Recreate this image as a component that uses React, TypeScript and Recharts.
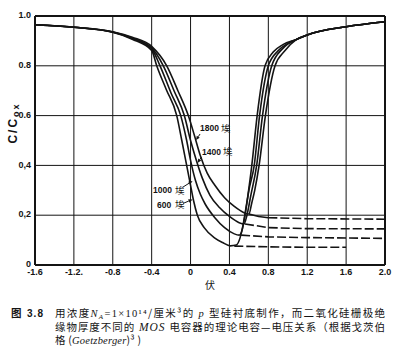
import React from 'react';
import { LineChart, Line, XAxis, YAxis, CartesianGrid, ReferenceLine, ReferenceDot } from 'recharts';

// Tick values and labels
const xTicks = [-1.6, -1.2, -0.8, -0.4, 0, 0.4, 0.8, 1.2, 1.6, 2.0];
const xTickLabels = ['-1.6', '-1.2.', '-0.8', '-0.4', '0', '0.4', '0.8', '1.2', '1.6', '2.0'];
const yTicks = [0, 0.2, 0.4, 0.6, 0.8, 1.0];
const yTickLabels = ['0', '0,2', '0,4', '0.6', '0.8', '1.0'];

// Low-frequency C-V curves (solid), oxide thickness in Å
const v600 = [-1.6, -1.2, -0.8, -0.6, -0.4, -0.348, -0.25, -0.142, -0.09, -0.04, 0.0, 0.03, 0.07, 0.14, 0.25, 0.33, 0.41, 0.47, 0.51, 0.54, 0.56, 0.59, 0.63, 0.685, 0.766, 0.85, 0.95, 1.09, 1.2, 1.6, 2.0];
const c600 = [0.965, 0.955, 0.935, 0.907, 0.862, 0.80, 0.705, 0.60, 0.50, 0.40, 0.32, 0.26, 0.20, 0.15, 0.108, 0.09, 0.077, 0.08, 0.11, 0.16, 0.205, 0.28, 0.40, 0.60, 0.80, 0.855, 0.885, 0.906, 0.924, 0.957, 0.977];

const v1000 = [-1.6, -1.2, -0.8, -0.6, -0.4, -0.314, -0.2, -0.101, -0.04, 0.0, 0.05, 0.1, 0.15, 0.25, 0.35, 0.45, 0.5, 0.53, 0.56, 0.6, 0.655, 0.71, 0.80, 0.9, 1.0, 1.09, 1.2, 1.6, 2.0];
const c1000 = [0.965, 0.955, 0.935, 0.91, 0.868, 0.80, 0.69, 0.60, 0.50, 0.42, 0.34, 0.285, 0.245, 0.19, 0.15, 0.125, 0.12, 0.14, 0.20, 0.30, 0.40, 0.60, 0.80, 0.86, 0.89, 0.906, 0.924, 0.957, 0.977];

const v1400 = [-1.6, -1.2, -0.8, -0.6, -0.4, -0.28, -0.17, -0.064, 0.0, 0.06, 0.12, 0.2, 0.3, 0.4, 0.5, 0.55, 0.58, 0.62, 0.68, 0.74, 0.835, 0.95, 1.09, 1.2, 1.6, 2.0];
const c1400 = [0.965, 0.955, 0.936, 0.912, 0.872, 0.80, 0.70, 0.60, 0.50, 0.42, 0.35, 0.28, 0.23, 0.195, 0.17, 0.165, 0.20, 0.28, 0.40, 0.60, 0.80, 0.87, 0.906, 0.924, 0.957, 0.977];

const v1800 = [-1.6, -1.2, -0.8, -0.6, -0.4, -0.245, -0.13, -0.023, 0.04, 0.1, 0.17, 0.25, 0.35, 0.45, 0.55, 0.6, 0.63, 0.66, 0.705, 0.77, 0.869, 0.97, 1.09, 1.2, 1.6, 2.0];
const c1800 = [0.965, 0.955, 0.937, 0.915, 0.878, 0.80, 0.70, 0.60, 0.52, 0.44, 0.37, 0.32, 0.27, 0.235, 0.21, 0.205, 0.25, 0.30, 0.40, 0.60, 0.80, 0.86, 0.906, 0.924, 0.957, 0.977];

// High-frequency inversion levels (dashed)
const hv600 = [0.45, 0.8, 1.2, 1.6];
const hc600 = [0.076, 0.073, 0.071, 0.071];
const hv1000 = [0.52, 0.8, 1.2, 2.0];
const hc1000 = [0.12, 0.113, 0.11, 0.107];
const hv1400 = [0.56, 0.8, 1.2, 2.0];
const hc1400 = [0.165, 0.15, 0.146, 0.145];
const sv1800 = [0.6, 0.7, 0.8];
const sc1800 = [0.205, 0.195, 0.19];
const hv1800 = [0.8, 1.2, 2.0];
const hc1800 = [0.19, 0.186, 0.184];

const zip = (xs: number[], ys: number[]) => xs.map((x, i) => ({ x, y: ys[i] }));

const lblFor = (ticks: number[], labels: string[]) => (v: number) => {
  const i = ticks.findIndex((t) => Math.abs(t - v) < 1e-6);
  return i >= 0 ? labels[i] : '';
};

const INK = '#141414';
const tickFont = { fontSize: 9, fontWeight: 700, fill: INK, fontFamily: 'Liberation Sans, Arial, sans-serif' };

const curveLabel = (num: string, kx: number, ax1: number, ay1: number, ax2: number, ay2: number) => (props: any) => {
  const { cx, cy } = props;
  if (cx == null || cy == null) return <g />;
  const dx = ax2 - ax1;
  const dy = ay2 - ay1;
  const len = Math.sqrt(dx * dx + dy * dy);
  const ux = dx / len;
  const uy = dy / len;
  const tx = cx + ax2;
  const ty = cy + ay2;
  const hx = tx - ux * 4;
  const hy = ty - uy * 4;
  return (
    <g>
      <text x={cx} y={cy} fontSize={8.5} fontWeight={700} fill={INK} fontFamily="Liberation Sans, Arial, sans-serif">{num}</text>
      <text x={cx + kx} y={cy + 0.5} fontSize={9.5} fill={INK} fontFamily="Noto Sans CJK SC">埃</text>
      <line x1={cx + ax1} y1={cy + ay1} x2={hx} y2={hy} stroke={INK} strokeWidth={1} />
      <polygon points={`${tx},${ty} ${hx - uy * 1.8},${hy + ux * 1.8} ${hx + uy * 1.8},${hy - ux * 1.8}`} fill={INK} />
    </g>
  );
};

export default function App() {
  const solid = { type: 'monotone' as const, dataKey: 'y', stroke: INK, strokeWidth: 1.6, dot: false, isAnimationActive: false };
  const dashed = { type: 'linear' as const, dataKey: 'y', stroke: INK, strokeWidth: 1.6, dot: false, isAnimationActive: false, strokeDasharray: '9 3' };
  return (
    <div style={{ position: 'absolute', left: 0, top: 0, width: 406, height: 356, background: '#fff' }}>
      <LineChart width={406} height={300} margin={{ top: 16, right: 21, bottom: 10, left: 5 }}>
        <CartesianGrid stroke={INK} strokeWidth={1} />
        <XAxis
          dataKey="x"
          type="number"
          domain={[-1.6, 2.0]}
          ticks={xTicks}
          interval={0}
          allowDataOverflow
          height={25}
          tickLine={false}
          tickSize={0}
          tickMargin={4}
          axisLine={{ stroke: INK, strokeWidth: 2 }}
          tick={tickFont}
          tickFormatter={lblFor(xTicks, xTickLabels)}
          label={{ value: '伏', position: 'insideBottom', offset: 1, fontSize: 10, fill: INK, fontFamily: 'Noto Sans CJK SC' }}
        />
        <YAxis
          type="number"
          domain={[0, 1]}
          ticks={yTicks}
          interval={0}
          allowDataOverflow
          width={30}
          tickLine={false}
          tickSize={0}
          tickMargin={4}
          axisLine={{ stroke: INK, strokeWidth: 2 }}
          tick={{ ...tickFont, dy: -1 }}
          tickFormatter={lblFor(yTicks, yTickLabels)}
        />
        <ReferenceLine y={1} stroke={INK} strokeWidth={2} />
        <ReferenceLine x={2} stroke={INK} strokeWidth={2} />
        <Line {...solid} data={zip(v600, c600)} name="600" />
        <Line {...solid} data={zip(v1000, c1000)} name="1000" />
        <Line {...solid} data={zip(v1400, c1400)} name="1400" />
        <Line {...solid} data={zip(v1800, c1800)} name="1800" />
        <Line {...dashed} data={zip(hv600, hc600)} name="600hf" />
        <Line {...dashed} data={zip(hv1000, hc1000)} name="1000hf" />
        <Line {...dashed} data={zip(hv1400, hc1400)} name="1400hf" />
        <Line {...solid} type="linear" data={zip(sv1800, sc1800)} name="1800s" />
        <Line {...dashed} data={zip(hv1800, hc1800)} name="1800hf" />
        <ReferenceDot x={0.0975} y={0.538} r={0} shape={curveLabel('1800', 21, 0, 3, -4, 9)} />
        <ReferenceDot x={0.118} y={0.442} r={0} shape={curveLabel('1400', 21, -0.5, 2, -4.5, 8)} />
        <ReferenceDot x={-0.386} y={0.289} r={0} shape={curveLabel('1000', 22, 30, -6, 39.5, -12)} />
        <ReferenceDot x={-0.345} y={0.229} r={0} shape={curveLabel('600', 18, 26, -4.5, 35.5, -8.5)} />
      </LineChart>
      <svg width={406} height={356} style={{ position: 'absolute', left: 0, top: 0, pointerEvents: 'none' }}>
        <text transform="translate(17,123) rotate(-90)" textAnchor="middle" fontSize={12} fontWeight={700} fill={INK} fontFamily="Liberation Sans, Arial, sans-serif" letterSpacing={2}>
          C/C<tspan fontSize={9} dy={2}>ox</tspan>
        </text>
        <g fill={INK} fontFamily="Noto Sans CJK SC" fontSize={10.5}>
          <text x={11} y={317} fontWeight={700}>图</text>
          <text x={27} y={317} fontWeight={700} fontFamily="Liberation Sans, Arial, sans-serif" fontSize={10} textLength={16} lengthAdjust="spacing">3.8</text>
          <text x={55} y={317} textLength={330} lengthAdjust="spacing">
            用浓度<tspan fontFamily="Liberation Serif" fontStyle="italic">N</tspan>
            <tspan fontFamily="Liberation Serif" fontStyle="italic" fontSize={7} dy={2}>A</tspan>
            <tspan dy={-2} fontFamily="Liberation Serif">=1×10¹⁴</tspan>
            <tspan>/厘米³的</tspan>
            <tspan fontFamily="Liberation Serif" fontStyle="italic"> p </tspan>
            <tspan>型硅衬底制作，而二氧化硅栅极绝</tspan>
          </text>
          <text x={55} y={330.5} textLength={330} lengthAdjust="spacing">
            缘物厚度不同的<tspan fontFamily="Liberation Serif" fontStyle="italic" fontSize={11.5}> MOS </tspan>电容器的理论电容—电压关系（根据戈茨伯
          </text>
          <text x={55} y={344} textLength={86} lengthAdjust="spacing">
            格 (<tspan fontFamily="Liberation Serif" fontStyle="italic">Goetzberger</tspan>)³ )
          </text>
        </g>
      </svg>
    </div>
  );
}
